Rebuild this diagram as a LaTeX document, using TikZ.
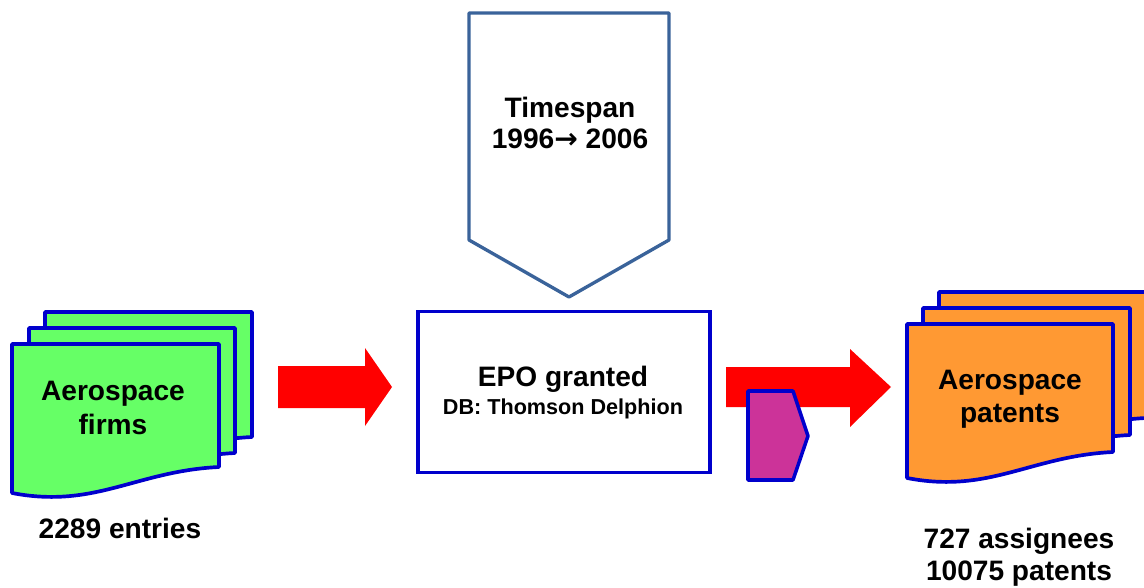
\documentclass[tikz,border=0pt]{standalone}
\usepackage{fontspec}
\setmainfont{Liberation Sans}
\newfontfamily\arrowfont{DejaVu Sans}
\definecolor{docgreen}{HTML}{66FF66}
\definecolor{docorange}{HTML}{FF9933}
\definecolor{lineblue}{HTML}{0000CC}
\definecolor{spanblue}{HTML}{3A639A}
\definecolor{dbmagenta}{HTML}{CC3399}
% one sheet of a document stack: x, y, width, height of right edge, fill
\newcommand{\docsheet}[5]{%
  \begin{scope}[shift={(#1,#2)}]
    \filldraw[sheetline, fill=#5] (0,0) -- (#3,0) -- (#3,#4)
      .. controls ({0.6*#3},{#4+4}) and ({0.4*#3},{#4+42}) .. (0,{#4+26}) -- cycle;
  \end{scope}}
\tikzset{
  sheetline/.style={draw=lineblue, line width=2.1pt, line join=round},
  label/.style={align=center, font=\bfseries\fontsize{16}{19}\selectfont, text=black},
  flowarrow/.style={fill=red}
}
\begin{document}
\begin{tikzpicture}[x=0.02cm, y=-0.02cm]
    \useasboundingbox (0,0) rectangle (1144,588);

    % input firms
    \docsheet{45}{312}{207}{125}{docgreen}
    \docsheet{29}{328}{206}{125}{docgreen}
    \docsheet{12}{344}{207}{123}{docgreen}
    \node[label] (firms) at (113,408) {Aerospace\\firms};
    \node[label] (entries) at (120,528) {2289 entries};

    % timespan
    \draw[draw=spanblue, line width=1.9pt, line join=round, fill=white]
        (469,13) -- (669,13) -- (669,240) -- (569,297) -- (469,240) -- cycle;
    \node[label, font=\bfseries\fontsize{16}{18}\selectfont] (span) at (570,123)
        {Timespan\\1996{\arrowfont\bfseries →} 2006};

    % database
    \node[rectangle, draw=lineblue, line width=2.1pt, fill=white,
          minimum width=5.84cm, minimum height=3.22cm] (epo) at (564,392) {};
    \node[label, font=\bfseries\fontsize{16}{16}\selectfont] (epotext) at (563,393)
        {EPO granted\\{\fontsize{12.3}{14}\selectfont DB: Thomson Delphion}};

    % arrows
    \fill[flowarrow] (278,366) -- (365,366) -- (365,348) -- (392,387)
        -- (365,426) -- (365,408) -- (278,408) -- cycle;
    \fill[flowarrow] (726,367) -- (850,367) -- (850,349) -- (891,387)
        -- (850,427) -- (850,407) -- (726,407) -- cycle;
    \filldraw[draw=lineblue, line width=2pt, fill=dbmagenta, line join=round]
        (748,391) -- (793,391) -- (808,436) -- (793,480) -- (748,480) -- cycle;

    % output patents
    \docsheet{939}{292}{207}{126}{docorange}
    \docsheet{923}{308}{207}{127}{docorange}
    \docsheet{907}{324}{206}{128}{docorange}
    \node[label] (patents) at (1010,399) {Aerospace\\patents};
    \node[label, font=\bfseries\fontsize{16}{18}\selectfont] (counts) at (1019,557) {727 assignees\\10075 patents};
\end{tikzpicture}
\end{document}
